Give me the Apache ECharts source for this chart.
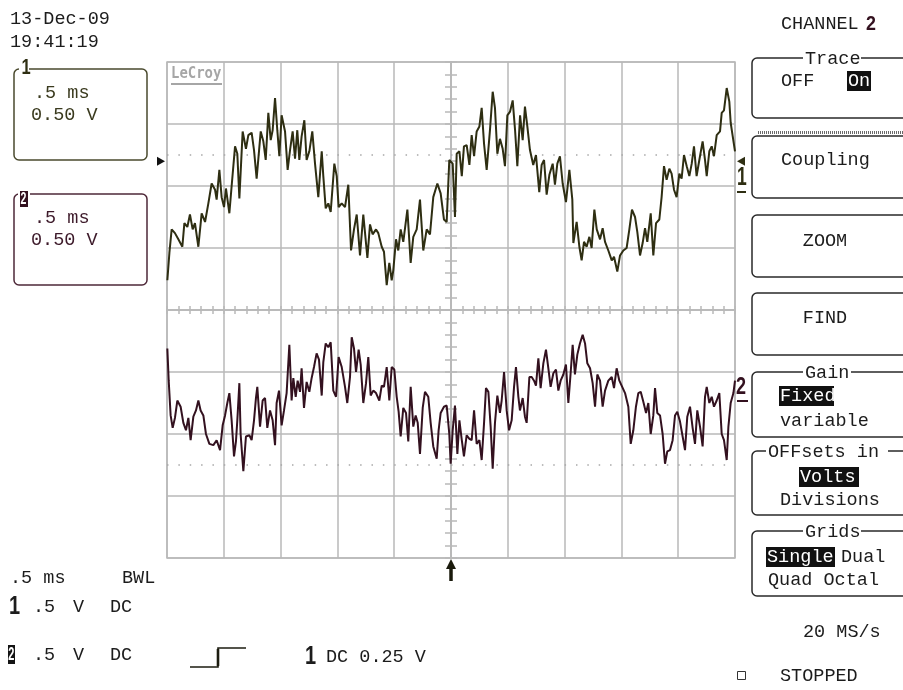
<!DOCTYPE html>
<html><head><meta charset="utf-8">
<script src="https://cdn.jsdelivr.net/npm/echarts@6/dist/echarts.min.js"></script>
<style>html,body{margin:0;padding:0;background:#fff}#c{width:903px;height:690px}</style>
</head><body><div id="c"></div>
<script>
// ---- data (time in ms from left edge of screen, volts as displayed, 0.5 V/div) ----
const TRIGGER_DELAY_MS = 2.5;
const ch1Time = [0.003,0.021,0.041,0.070,0.100,0.135,0.153,0.179,0.202,0.226,0.246,0.276,0.305,0.335,0.364,0.393,0.423,0.437,0.461,0.481,0.502,0.519,0.549,0.569,0.599,0.619,0.637,0.666,0.695,0.716,0.745,0.766,0.789,0.825,0.848,0.869,0.892,0.913,0.930,0.951,0.971,0.989,1.009,1.039,1.062,1.083,1.106,1.127,1.147,1.165,1.185,1.209,1.229,1.253,1.279,1.303,1.332,1.362,1.376,1.397,1.420,1.441,1.473,1.494,1.511,1.538,1.567,1.596,1.620,1.646,1.670,1.699,1.728,1.764,1.787,1.810,1.840,1.860,1.890,1.910,1.934,1.957,1.978,1.992,2.016,2.036,2.057,2.080,2.116,2.145,2.168,2.198,2.227,2.256,2.286,2.315,2.344,2.380,2.409,2.438,2.462,2.485,2.515,2.535,2.550,2.574,2.595,2.614,2.638,2.662,2.682,2.703,2.726,2.750,2.770,2.791,2.814,2.843,2.867,2.887,2.908,2.931,2.955,2.975,2.996,3.020,3.043,3.064,3.084,3.108,3.131,3.151,3.172,3.195,3.224,3.248,3.277,3.298,3.319,3.342,3.366,3.395,3.415,3.436,3.459,3.483,3.512,3.542,3.568,3.577,3.606,3.630,3.650,3.671,3.694,3.718,3.738,3.762,3.783,3.812,3.835,3.856,3.885,3.915,3.935,3.964,3.988,4.017,4.046,4.070,4.093,4.120,4.140,4.164,4.187,4.208,4.228,4.258,4.281,4.305,4.334,4.354,4.375,4.398,4.422,4.442,4.463,4.486,4.510,4.530,4.551,4.575,4.598,4.619,4.639,4.662,4.686,4.715,4.736,4.751,4.774,4.795,4.815,4.839,4.868,4.883,4.903,4.927,4.950,4.962,4.980,5.000];
const ch1Volt = [0.24,0.46,0.65,0.62,0.57,0.51,0.70,0.67,0.77,0.65,0.70,0.51,0.78,0.71,0.86,1.02,0.97,0.89,1.13,0.91,0.83,0.98,0.78,1.00,1.32,1.26,0.90,1.44,1.30,1.41,1.43,1.29,1.06,1.44,1.36,1.21,1.59,1.37,1.45,1.71,1.45,1.24,1.57,1.44,1.13,1.29,1.44,1.22,1.45,1.21,1.40,1.53,1.21,1.28,1.44,1.18,0.91,1.28,1.08,0.82,0.86,0.79,1.18,1.08,0.83,0.86,0.83,1.01,0.48,0.65,0.77,0.44,0.77,0.42,0.69,0.61,0.65,0.62,0.51,0.47,0.20,0.38,0.24,0.32,0.57,0.48,0.65,0.55,0.81,0.38,0.59,0.65,0.89,0.48,0.65,0.61,0.91,1.02,0.94,0.73,0.71,1.21,1.18,0.75,1.26,1.28,1.08,1.32,1.33,1.17,1.41,1.24,1.44,1.48,1.63,1.34,1.13,1.45,1.76,1.63,1.26,1.38,1.30,1.16,1.57,1.60,1.69,1.45,1.16,1.57,1.37,1.64,1.48,1.29,1.17,1.25,0.95,1.17,1.21,0.93,1.09,1.18,1.01,1.18,1.24,1.02,0.87,1.13,0.89,0.54,0.71,0.51,0.40,0.55,0.51,0.59,0.50,0.81,0.65,0.57,0.66,0.55,0.48,0.40,0.43,0.31,0.44,0.48,0.50,0.65,0.81,0.75,0.63,0.44,0.54,0.66,0.55,0.78,0.44,0.70,0.73,0.91,1.16,1.05,1.14,1.10,0.97,0.91,1.10,1.06,1.25,1.16,1.08,1.18,1.32,1.08,1.21,1.36,1.21,1.08,1.28,1.32,1.24,1.41,1.44,1.59,1.61,1.79,1.68,1.51,1.40,1.28];
const ch2Time = [0.003,0.015,0.032,0.050,0.070,0.091,0.120,0.144,0.167,0.188,0.208,0.232,0.255,0.276,0.296,0.320,0.343,0.373,0.408,0.437,0.467,0.490,0.511,0.531,0.549,0.569,0.590,0.607,0.619,0.637,0.648,0.672,0.695,0.725,0.745,0.766,0.783,0.795,0.819,0.842,0.863,0.883,0.907,0.930,0.951,0.965,0.986,1.009,1.030,1.053,1.077,1.097,1.112,1.133,1.150,1.171,1.185,1.206,1.229,1.253,1.273,1.294,1.317,1.338,1.362,1.376,1.397,1.420,1.441,1.464,1.488,1.511,1.538,1.567,1.587,1.611,1.626,1.646,1.664,1.687,1.705,1.728,1.752,1.772,1.793,1.816,1.840,1.869,1.890,1.910,1.934,1.957,1.978,2.001,2.022,2.039,2.057,2.080,2.104,2.124,2.145,2.168,2.189,2.207,2.227,2.251,2.271,2.300,2.321,2.344,2.374,2.391,2.409,2.438,2.462,2.485,2.497,2.515,2.535,2.556,2.574,2.595,2.614,2.638,2.662,2.682,2.703,2.726,2.750,2.770,2.791,2.808,2.829,2.849,2.867,2.887,2.908,2.931,2.946,2.967,2.990,3.011,3.034,3.055,3.072,3.093,3.107,3.131,3.151,3.166,3.190,3.210,3.231,3.248,3.269,3.289,3.313,3.336,3.357,3.377,3.401,3.424,3.445,3.465,3.489,3.512,3.533,3.553,3.571,3.591,3.612,3.635,3.659,3.680,3.700,3.724,3.747,3.768,3.788,3.812,3.835,3.856,3.885,3.915,3.935,3.958,3.982,4.002,4.032,4.061,4.082,4.105,4.128,4.149,4.170,4.193,4.217,4.237,4.258,4.281,4.296,4.316,4.340,4.363,4.384,4.404,4.428,4.451,4.472,4.492,4.516,4.539,4.560,4.580,4.604,4.627,4.648,4.668,4.692,4.715,4.736,4.751,4.774,4.795,4.815,4.839,4.862,4.883,4.903,4.927,4.942,4.962,4.986,5.000];
const ch2Volt = [-0.31,-0.57,-0.85,-0.95,-0.87,-0.73,-0.78,-0.91,-0.97,-0.87,-1.05,-0.86,-0.81,-0.73,-0.81,-0.85,-1.00,-1.08,-1.09,-1.05,-1.13,-0.93,-0.85,-0.75,-0.67,-0.89,-1.18,-1.06,-0.89,-0.59,-1.00,-1.30,-1.02,-1.01,-1.05,-0.89,-0.71,-0.62,-0.94,-0.73,-0.71,-0.95,-0.81,-0.89,-1.09,-0.75,-0.65,-0.93,-0.81,-0.67,-0.28,-0.73,-0.55,-0.70,-0.57,-0.66,-0.47,-0.79,-0.58,-0.66,-0.55,-0.46,-0.35,-0.40,-0.69,-0.42,-0.27,-0.30,-0.26,-0.65,-0.70,-0.38,-0.46,-0.62,-0.75,-0.54,-0.22,-0.31,-0.50,-0.32,-0.44,-0.75,-0.59,-0.38,-0.69,-0.65,-0.67,-0.73,-0.61,-0.62,-0.46,-0.73,-0.46,-0.48,-0.70,-0.82,-1.02,-0.79,-0.83,-1.06,-0.62,-0.94,-0.85,-0.91,-1.16,-0.79,-0.66,-0.70,-0.91,-1.10,-1.20,-0.97,-0.83,-0.78,-0.77,-1.00,-1.24,-0.97,-0.77,-1.16,-0.89,-1.05,-1.18,-1.01,-1.04,-1.05,-0.81,-1.08,-1.05,-1.21,-0.91,-0.63,-0.66,-0.94,-1.28,-0.91,-0.69,-0.83,-0.73,-0.50,-0.81,-0.97,-0.89,-0.62,-0.46,-0.70,-0.81,-0.71,-0.86,-0.91,-0.54,-0.54,-0.57,-0.61,-0.39,-0.63,-0.43,-0.32,-0.47,-0.62,-0.51,-0.48,-0.65,-0.57,-0.52,-0.44,-0.75,-0.51,-0.28,-0.52,-0.36,-0.27,-0.20,-0.27,-0.43,-0.47,-0.59,-0.78,-0.52,-0.57,-0.78,-0.65,-0.57,-0.54,-0.63,-0.47,-0.57,-0.61,-0.67,-0.78,-1.08,-0.97,-0.78,-0.67,-0.66,-0.74,-0.83,-0.75,-1.00,-0.85,-0.63,-0.83,-0.85,-1.00,-1.24,-1.14,-1.13,-1.05,-0.85,-0.82,-0.90,-1.02,-1.13,-0.86,-0.78,-0.95,-1.08,-0.81,-0.94,-1.10,-0.70,-0.62,-0.75,-0.70,-0.78,-0.73,-0.67,-1.00,-1.05,-1.21,-0.94,-0.75,-0.67,-0.57];
const refLevels = [1.25, -1.25];     // dotted reference lines (V)
const triggerLevel = 1.2;            // V on screen
const timeAxis = {min: -2.5, max: 2.5, interval: 0.5};  // ms, 0.5 ms/div
const voltAxis = {min: -2, max: 2, interval: 0.5};      // V, 0.5 V/div

const G = '#b9b9b9', C1 = '#2e2e12', C2 = '#33111f', TXT = '#1c1c1c';
const C1B = '#4a4a2e', C2B = '#4e2838';
const F = '18.5px "Liberation Mono", "DejaVu Sans Mono", monospace';
const FB = 'bold 25px "Liberation Sans", sans-serif';

const chart = echarts.init(document.getElementById('c'), null, {renderer: 'canvas'});

function centerAxis(base, inside, len, split) {
  return Object.assign({}, base, {
    type: 'value',
    axisLine: {show: true, onZero: true, onZeroAxisIndex: 0, lineStyle: {color: G, width: 1.5}},
    axisTick: {show: true, inside: inside, length: len, lineStyle: {color: G, width: 1.5}},
    minorTick: {show: true, splitNumber: split, length: len, lineStyle: {color: G, width: 1.5}},
    axisLabel: {show: false}, splitLine: {show: false}, minorSplitLine: {show: false}
  });
}
const gridAxis = (base) => Object.assign({}, base, {
  type: 'value', axisLine: {show: false}, axisTick: {show: false}, axisLabel: {show: false},
  splitLine: {show: true, lineStyle: {color: G, width: 1.5}}
});

const dotted = () => ({
  silent: true, symbol: ['none', 'none'], label: {show: false}, animation: false,
  lineStyle: {color: '#a8a8a8', width: 1.5, type: [1.5, 9.86]},
  emphasis: {disabled: true}
});

const option = {
  animation: false,
  backgroundColor: '#fff',
  grid: {left: 167, top: 62, width: 568, height: 496, show: true, borderColor: G, borderWidth: 1.5},
  xAxis: [gridAxis(timeAxis), centerAxis(timeAxis, true, 4, 5), centerAxis(timeAxis, false, 4, 5)],
  yAxis: [gridAxis(voltAxis), centerAxis(voltAxis, true, 6, 5), centerAxis(voltAxis, false, 6, 5)],
  series: [
    {type: 'line', name: 'CH1', xAxisIndex: 0, yAxisIndex: 0, showSymbol: false, silent: true,
     data: ch1Time.map((t, i) => [t - TRIGGER_DELAY_MS, ch1Volt[i]]),
     lineStyle: {color: C1, width: 2}, z: 5,
     markLine: Object.assign(dotted(), {data: [{yAxis: refLevels[0]}]})},
    {type: 'line', name: 'CH2', xAxisIndex: 0, yAxisIndex: 0, showSymbol: false, silent: true,
     data: ch2Time.map((t, i) => [t - TRIGGER_DELAY_MS, ch2Volt[i]]),
     lineStyle: {color: C2, width: 2}, z: 5,
     markLine: Object.assign(dotted(), {data: [{yAxis: refLevels[1]}]})}
  ]
};
chart.setOption(option);

// ---- screen furniture ----
function txt(x, y, s, o) {
  o = o || {};
  return {type: 'text', x: x, y: y, z: 30, scaleX: o.sx || 1, silent: true,
    style: {text: s, fill: o.fill || TXT, font: o.font || F,
      textAlign: o.align || 'left', textVerticalAlign: 'middle', align: o.align || 'left', verticalAlign: 'middle'}};
}
function rect(x, y, w, h, o) {
  o = o || {};
  return {type: 'rect', z: o.z || 20, silent: true, shape: {x: x, y: y, width: w, height: h, r: o.r == null ? 5 : o.r},
    style: {fill: o.fill || 'none', stroke: o.stroke || null, lineWidth: o.lw || 1.5}};
}
function mask(x, y, w, h) { return rect(x, y, w, h, {fill: '#fff', z: 25, r: 0}); }
function inv(x, y, w, h, s, tx) {
  return [rect(x, y, w, h, {fill: '#111', z: 26, r: 0}), txt(tx, y + h / 2, s, {fill: '#fff'})];
}

const els = [];
els.push(txt(10, 19, '13-Dec-09'), txt(10, 42, '19:41:19'));
// channel boxes (left)
els.push(rect(14, 69, 133, 91, {stroke: C1B}), mask(19, 60, 10, 15),
  txt(21.5, 68, '1', {font: 'bold 22px "Liberation Sans", sans-serif', fill: C1, sx: 0.75}),
  txt(34, 93, '.5 ms', {fill: '#3a3a1e'}), txt(31, 115, '0.50 V', {fill: '#3a3a1e'}));
els.push(rect(14, 194, 133, 91, {stroke: C2B}), mask(18, 188, 12, 14),
  rect(20, 191, 8, 16, {fill: C2, z: 26, r: 0}), txt(20.5, 199.5, '2', {font: 'bold 17px "Liberation Sans", sans-serif', fill: '#fff', sx: 0.62}),
  txt(34, 218, '.5 ms', {fill: '#3d1a2a'}), txt(31, 240, '0.50 V', {fill: '#3d1a2a'}));
// LeCroy logo
els.push(txt(171, 74, 'LeCroy', {font: 'bold 15px "DejaVu Sans Mono", monospace', fill: '#a6a6a6', sx: 0.93}),
  {type: 'rect', z: 30, shape: {x: 171, y: 83, width: 51, height: 2}, style: {fill: '#a6a6a6'}});

// bottom status
els.push(txt(10, 578, '.5 ms'), txt(122, 578, 'BWL'));
els.push(txt(9, 607, '1', {font: FB, fill: TXT, sx: 0.8}), txt(33, 607, '.5'), txt(73, 607, 'V'), txt(110, 607, 'DC'));
els.push(rect(8, 645, 7, 19, {fill: '#141414', z: 26, r: 0}),
  txt(8.3, 655, '2', {font: 'bold 19px "Liberation Sans", sans-serif', fill: '#fff', sx: 0.58}),
  txt(33, 655, '.5'), txt(73, 655, 'V'), txt(110, 655, 'DC'));
els.push({type: 'polyline', z: 30, shape: {points: [[190, 667], [218, 667], [218, 648], [246, 648]]},
  style: {stroke: '#1c1c10', lineWidth: 1.6, fill: null}});
els.push({type: 'line', z: 30, shape: {x1: 218, y1: 666, x2: 218, y2: 649}, style: {stroke: '#1c1c10', lineWidth: 2.6}});
els.push(txt(305, 657, '1', {font: FB, fill: TXT, sx: 0.8}), txt(326, 657, 'DC 0.25 V'));

// right panel
els.push(txt(781, 24, 'CHANNEL'), txt(866, 24, '2', {font: 'bold 21px "Liberation Sans", sans-serif', fill: C2, sx: 0.85}));
const PB = '#2a2a2a';
els.push(rect(752, 58, 170, 60, {stroke: PB}), mask(803, 50, 58, 16), txt(805, 59, 'Trace'),
  txt(781, 81, 'OFF'), ...inv(847, 71, 24, 20, 'On', 848));
els.push({type: 'line', z: 21, shape: {x1: 758, y1: 132.5, x2: 903, y2: 132.5}, style: {stroke: '#6a6a6a', lineWidth: 3, lineDash: [1, 1]}});
els.push(rect(752, 136, 170, 62, {stroke: PB}), txt(781, 160, 'Coupling'));
els.push(rect(752, 215, 170, 62, {stroke: PB}), txt(825, 241, 'ZOOM', {align: 'center'}));
els.push(rect(752, 293, 170, 62, {stroke: PB}), txt(825, 318, 'FIND', {align: 'center'}));
els.push(rect(752, 372, 170, 65, {stroke: PB}), mask(803, 364, 48, 16), txt(805, 373, 'Gain'),
  ...inv(779, 386, 55, 20, 'Fixed', 780), txt(780, 421, 'variable'));
els.push(rect(752, 451, 170, 64, {stroke: PB}), mask(766, 443, 122, 16), txt(768, 452, 'OFFsets in'),
  ...inv(799, 467, 60, 20, 'Volts', 800), txt(780, 500, 'Divisions'));
els.push(rect(752, 531, 170, 65, {stroke: PB}), mask(803, 523, 58, 16), txt(805, 532, 'Grids'),
  ...inv(766, 547, 69, 20, 'Single', 767), txt(841, 557, 'Dual'), txt(768, 580, 'Quad Octal'));
els.push(txt(803, 632, '20 MS/s'));
els.push(rect(737.5, 671.5, 8, 8, {stroke: '#333', lw: 1, r: 0}), txt(780, 676, 'STOPPED'));

// markers from the axes
const pTrig = chart.convertToPixel({gridIndex: 0}, [timeAxis.min, triggerLevel]);
const pTrigR = chart.convertToPixel({gridIndex: 0}, [timeAxis.max, triggerLevel]);
const pT0 = chart.convertToPixel({gridIndex: 0}, [0, voltAxis.min]);
els.push({type: 'polygon', z: 30, shape: {points: [[pTrig[0] - 10, pTrig[1] - 4.5], [pTrig[0] - 2, pTrig[1]], [pTrig[0] - 10, pTrig[1] + 4.5]]}, style: {fill: '#111'}});
els.push({type: 'polygon', z: 30, shape: {points: [[pTrigR[0] + 10, pTrigR[1] - 4.5], [pTrigR[0] + 2, pTrigR[1]], [pTrigR[0] + 10, pTrigR[1] + 4.5]]}, style: {fill: C1}});
els.push(txt(737, 178, '1', {font: FB, fill: C1, sx: 0.7}),
  {type: 'rect', z: 30, shape: {x: 737, y: 191, width: 9, height: 2}, style: {fill: C1}});
els.push(txt(736, 387, '2', {font: 'bold 24px "Liberation Sans", sans-serif', fill: C2, sx: 0.75}),
  {type: 'rect', z: 30, shape: {x: 737, y: 400, width: 11, height: 2}, style: {fill: C2}});
els.push({type: 'polygon', z: 30, shape: {points: [[pT0[0], pT0[1] + 1], [pT0[0] - 5, pT0[1] + 11], [pT0[0] + 5, pT0[1] + 11]]}, style: {fill: '#1a1a0c'}},
  {type: 'rect', z: 30, shape: {x: pT0[0] - 1.75, y: pT0[1] + 10, width: 3.5, height: 13}, style: {fill: '#1a1a0c'}});

chart.setOption({graphic: {elements: els}});
</script></body></html>
